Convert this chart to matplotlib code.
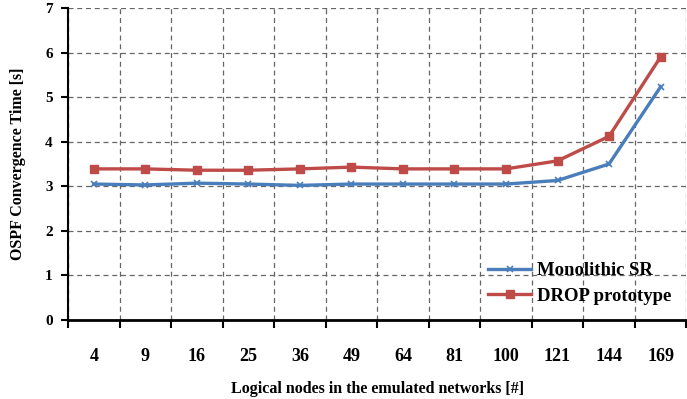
import matplotlib
matplotlib.use("Agg")
import matplotlib.pyplot as plt
import numpy as np

nodes = ["4", "9", "16", "25", "36", "49", "64", "81", "100", "121", "144", "169"]
monolithic_sr = [3.05, 3.03, 3.07, 3.05, 3.02, 3.05, 3.05, 3.05, 3.05, 3.13, 3.50, 5.23]
drop_proto = [3.39, 3.39, 3.36, 3.36, 3.39, 3.43, 3.39, 3.39, 3.39, 3.57, 4.12, 5.90]

plt.rcParams['font.family'] = ['Liberation Serif', 'DejaVu Serif']
plt.rcParams['font.weight'] = 'bold'
plt.rcParams['axes.labelweight'] = 'bold'

fig = plt.figure(figsize=(6.87, 3.99), dpi=100)
ax = fig.add_axes([0.099, 0.198, 0.9, 0.782])

x = np.arange(len(nodes))
ax.plot(x, monolithic_sr, color='#4A7EBB', lw=2.4, marker='x', ms=5, mew=1.2,
        label='Monolithic SR')
ax.plot(x, drop_proto, color='#BE4B48', lw=2.4, marker='s', ms=6,
        label='DROP prototype')

ax.set_xlim(-0.5, len(nodes) - 0.5)
ax.set_ylim(0, 7)
ax.set_yticks(range(0, 8))
ax.set_xticks(x)
ax.set_xticklabels(nodes)
ax.set_xticks(np.arange(-0.5, len(nodes)), minor=True)

ax.grid(True, which='major', axis='y', color='#666666', ls=(0, (4, 3)), lw=0.9)
ax.grid(True, which='minor', axis='x', color='#666666', ls=(0, (4, 3)), lw=0.9)
ax.tick_params(axis='x', which='major', length=0, pad=20, labelsize=13)
ax.tick_params(axis='x', which='minor', length=6, width=1.5, direction='out')
ax.tick_params(axis='y', length=5, width=1.5, direction='out', labelsize=11, pad=6)

for s in ['top', 'right']:
    ax.spines[s].set_visible(False)
ax.spines['left'].set_linewidth(1.5)
ax.spines['bottom'].set_linewidth(2)

ax.set_ylabel('OSPF Convergence Time [s]', fontsize=11.5, labelpad=14)
ax.set_xlabel('Logical nodes in the emulated networks [#]', fontsize=11.5, labelpad=12)

ax.legend(loc='lower right', frameon=False, fontsize=13.5, handlelength=2.3,
          handletextpad=0.3, labelspacing=0.45, borderaxespad=0.4)

fig.savefig('out.png', dpi=100)
